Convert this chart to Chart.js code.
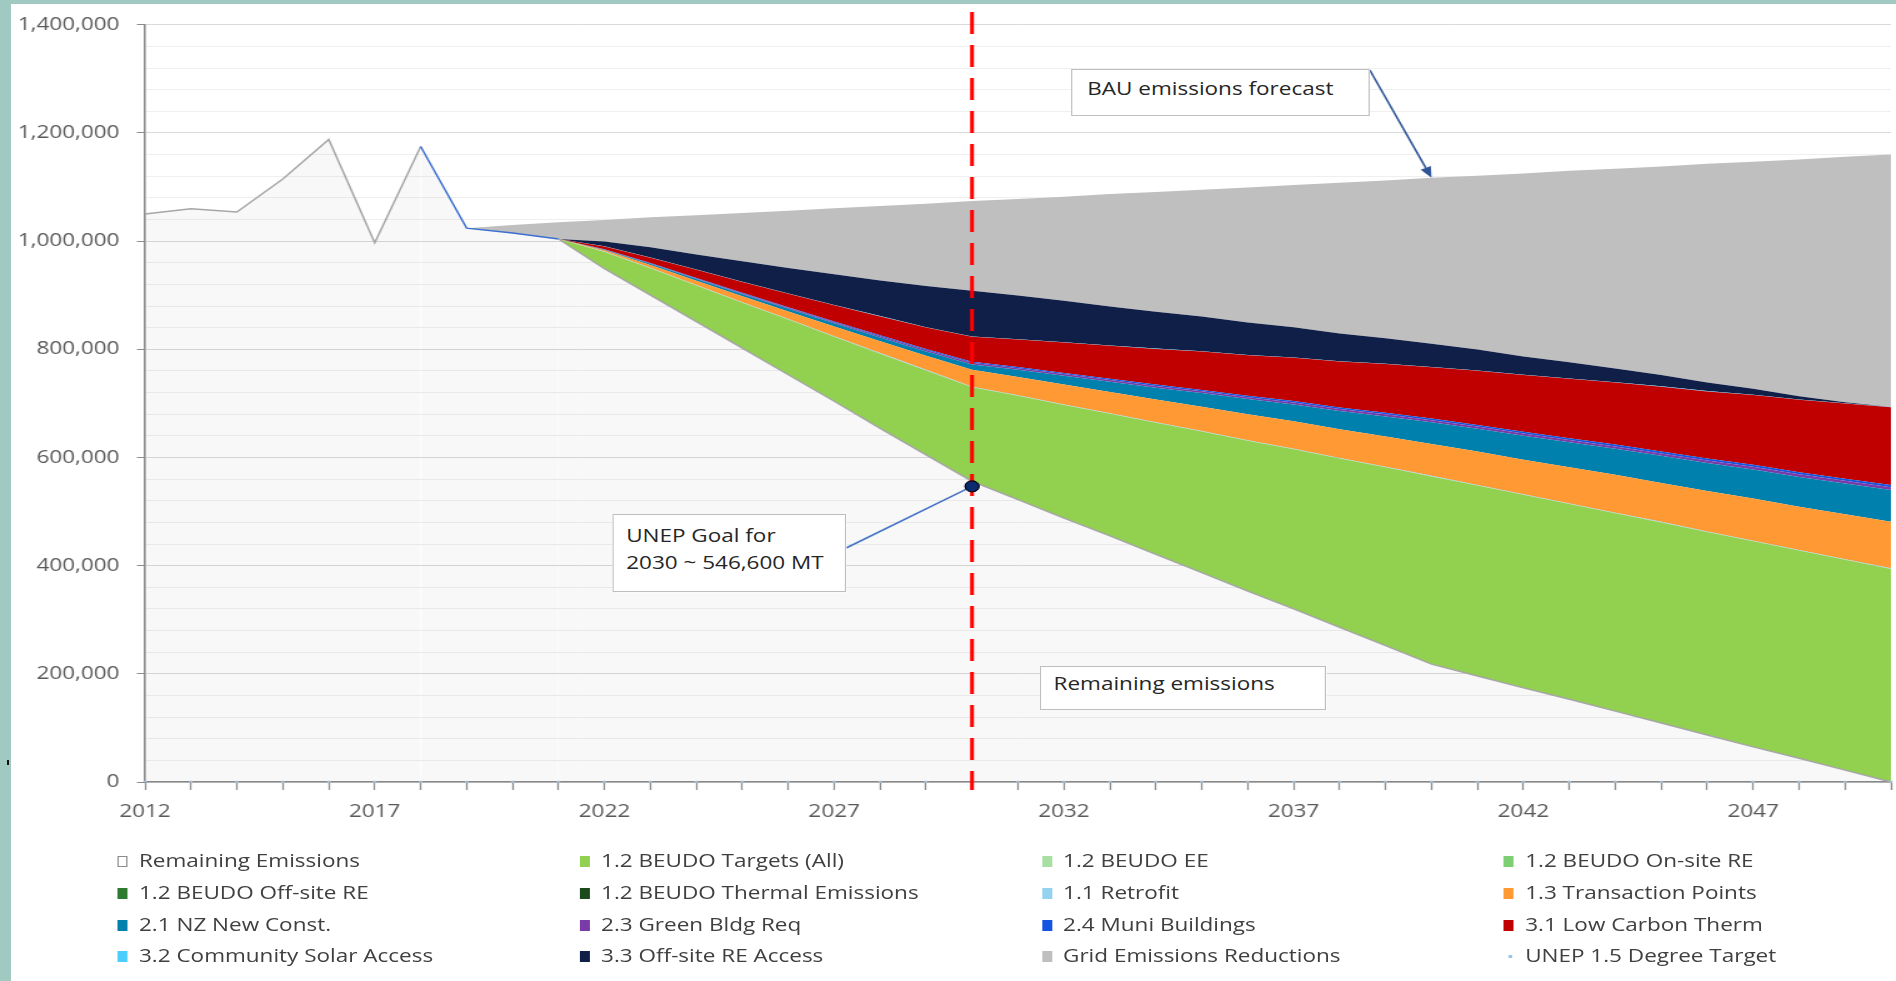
<!DOCTYPE html>
<html>
<head>
<meta charset="utf-8">
<script src="https://cdn.jsdelivr.net/npm/chart.js@4.4.1/dist/chart.umd.min.js"></script>
<style>
html,body{margin:0;padding:0;width:1896px;height:981px;overflow:hidden;background:#a0c9c1;font-family:"Open Sans",sans-serif;}
#panel{position:absolute;left:11px;top:4px;right:0;bottom:0;background:#fff;}
#mark{position:absolute;left:7px;top:760px;width:2px;height:5px;background:#111;}
#stage{position:absolute;left:0;top:0;width:1517px;height:981px;transform:scaleX(1.2498);transform-origin:0 0;}
#c{position:absolute;left:0;top:0;}
.box{position:absolute;background:#fff;border:1.5px solid #bfbfbf;box-sizing:border-box;color:#262626;font-size:18px;line-height:24px;white-space:nowrap;}
.li{position:absolute;font-size:18px;color:#404040;white-space:nowrap;line-height:24px;height:24px;}
.sw{position:absolute;box-sizing:border-box;}
</style>
</head>
<body>
<div id="panel"></div>
<div id="mark"></div>
<div id="stage">
  <canvas id="c" width="1517" height="850" style="width:1517px;height:850px"></canvas>
  <div class="box" style="left:857px;top:69px;width:239px;height:47px;padding:6px 0 0 12px;">BAU emissions forecast</div>
  <div class="box" style="left:490px;top:514px;width:187px;height:78px;padding:7px 0 0 10px;line-height:26.7px;">UNEP Goal for<br>2030 ~ 546,600 MT</div>
  <div class="box" style="left:832px;top:666px;width:229px;height:44px;padding:4px 0 0 10px;">Remaining emissions</div>
  <div id="legend"></div>
</div>
<script>
// ---------------- DATA (metric tons CO2e) ----------------
const years = [2012,2013,2014,2015,2016,2017,2018,2019,2020,2021,2022,2023,2024,2025,2026,2027,2028,2029,2030,
  2031,2032,2033,2034,2035,2036,2037,2038,2039,2040,2041,2042,2043,2044,2045,2046,2047,2048,2049,2050];

const remainingEmissions = [1050000,1060000,1054000,1115000,1188000,997000,1175000,1024000,1015000,1004000,
  949000,900000,851000,802000,753000,704000,654000,605000,556000,
  522000,488000,455000,421000,387000,353000,320000,286000,252000,218000,
  196000,174000,153000,131000,109000,87000,65000,44000,22000,0];

const beudoTargetsAll = [0,0,0,0,0,0,0,0,0,0,
  31000,50000,67000,84000,102000,119000,138000,156000,174000,
  192000,209000,226000,243000,261000,278000,295000,312000,330000,347000,
  352000,357000,361000,366000,371000,375000,380000,384000,389000,394000];

const beudoEE = [0,0,0,0,0,0,0,0,0,0,0,0,0,0,0,0,0,0,0,0,0,0,0,0,0,0,0,0,0,0,0,0,0,0,0,0,0,0,0];
const beudoOnsiteRE = [0,0,0,0,0,0,0,0,0,0,0,0,0,0,0,0,0,0,0,0,0,0,0,0,0,0,0,0,0,0,0,0,0,0,0,0,0,0,0];
const beudoOffsiteRE = [0,0,0,0,0,0,0,0,0,0,0,0,0,0,0,0,0,0,0,0,0,0,0,0,0,0,0,0,0,0,0,0,0,0,0,0,0,0,0];
const beudoThermal = [0,0,0,0,0,0,0,0,0,0,0,0,0,0,0,0,0,0,0,0,0,0,0,0,0,0,0,0,0,0,0,0,0,0,0,0,0,0,0];

const retrofit = [0,0,0,0,0,0,0,0,0,0,
  1000,1000,1000,1000,1000,1000,1000,1000,1000,
  1000,1000,1000,1000,1000,1000,1000,1000,1000,1000,
  1000,1000,1000,1000,1000,1000,1000,1000,1000,1000];

const transactionPoints = [0,0,0,0,0,0,0,0,0,0,
  2000,5000,8000,11000,14000,18000,22000,26000,31000,
  34000,37000,39000,42000,45000,48000,51000,53000,56000,59000,
  62000,64000,67000,70000,72000,75000,78000,80000,83000,86000];

const nzNewConst = [0,0,0,0,0,0,0,0,0,0,
  1000,2000,3000,4000,5000,6000,7000,8000,10000,
  13000,16000,19000,22000,25000,28000,31000,34000,37000,40000,
  42000,44000,46000,48000,50000,52000,54000,55000,57000,59000];

const greenBldgReq = [0,0,0,0,0,0,0,0,0,0,
  500,800,1100,1400,1700,2000,2300,2600,3000,
  3100,3200,3300,3400,3500,3600,3700,3800,3900,4000,
  4100,4200,4300,4400,4500,4600,4700,4800,4900,5000];

const muniBuildings = [0,0,0,0,0,0,0,0,0,0,
  400,600,800,1000,1200,1400,1600,1800,2000,
  2100,2200,2300,2400,2500,2600,2700,2800,2900,3000,
  3100,3200,3300,3400,3500,3600,3700,3800,3900,4000];

const lowCarbonTherm = [0,0,0,0,0,0,0,0,0,0,
  5000,10000,15000,20000,25000,30000,35000,40000,46000,
  51000,56000,61000,66000,71000,75000,80000,85000,90000,95000,
  100000,105000,110000,115000,120000,124000,129000,134000,139000,144000];

const communitySolar = [0,0,0,0,0,0,0,0,0,0,
  500,500,500,500,500,500,500,500,500,
  500,500,500,500,500,500,500,500,500,500,
  500,500,500,500,500,500,500,500,500,500];

const offsiteREAccess = [0,0,0,0,0,0,0,0,0,0,
  9000,19000,28000,38000,47000,57000,66000,76000,85000,
  81000,77000,72000,68000,64000,60000,56000,51000,47000,43000,
  39000,34000,30000,25000,21000,16000,11000,6000,2000,0];

const gridReductions = [0,0,0,0,0,0,0,0,15000,31000,
  39600,55100,72600,89100,105600,122100,137600,152100,165500,
  178300,192100,207900,221700,234500,249300,263100,278900,291700,306500,
  321300,338100,353900,369700,385500,404300,420100,437900,453700,466500];

const unepTarget = [0,0,0,0,0,0,0,0,0,0,0,0,0,0,0,0,0,0,546600,
  0,0,0,0,0,0,0,0,0,0,0,0,0,0,0,0,0,0,0,0];

const yMax = 1400000;
const yStep = 40000;
const yLabelStep = 200000;
const xLabelEvery = 5;

// ---------------- SERIES TABLE ----------------
const series = [
  {label:'Remaining Emissions', data:remainingEmissions, color:'rgba(0,0,0,0.026)'},
  {label:'1.2 BEUDO Targets (All)', data:beudoTargetsAll, color:'#92d050'},
  {label:'1.2 BEUDO EE', data:beudoEE, color:'#a9dfa3'},
  {label:'1.2 BEUDO On-site RE', data:beudoOnsiteRE, color:'#7ccf72'},
  {label:'1.2 BEUDO Off-site RE', data:beudoOffsiteRE, color:'#2e7a2e'},
  {label:'1.2 BEUDO Thermal Emissions', data:beudoThermal, color:'#1d4a1d'},
  {label:'1.1 Retrofit', data:retrofit, color:'#93d3ef'},
  {label:'1.3 Transaction Points', data:transactionPoints, color:'#ff9933'},
  {label:'2.1 NZ New Const.', data:nzNewConst, color:'#0080ad'},
  {label:'2.3 Green Bldg Req', data:greenBldgReq, color:'#7a3aa8'},
  {label:'2.4 Muni Buildings', data:muniBuildings, color:'#1255e0'},
  {label:'3.1 Low Carbon Therm', data:lowCarbonTherm, color:'#c00000'},
  {label:'3.2 Community Solar Access', data:communitySolar, color:'#4dcdfb'},
  {label:'3.3 Off-site RE Access', data:offsiteREAccess, color:'#101f48'},
  {label:'Grid Emissions Reductions', data:gridReductions, color:'#bfbfbf'},
  {label:'UNEP 1.5 Degree Target', data:unepTarget, color:'#9dc3e6'}
];

const datasets = series.map((s, i) => {
  if (s.label === 'UNEP 1.5 Degree Target') {
    return {
      label: s.label, data: s.data, stack: 'unep', order: -1, showLine: false, fill: false,
      pointRadius: ctx => (ctx.raw > 0 ? 5.5 : 1.6),
      pointBackgroundColor: ctx => (ctx.raw > 0 ? '#0b2a70' : s.color),
      pointBorderColor: ctx => (ctx.raw > 0 ? '#000000' : s.color),
      pointBorderWidth: ctx => (ctx.raw > 0 ? 1 : 0)
    };
  }
  const d = {
    label: s.label, data: s.data, backgroundColor: s.color, borderColor: s.color,
    borderWidth: 0, pointRadius: 0, tension: 0, fill: i === 0 ? 'origin' : '-1'
  };
  if (i === 0) {
    d.borderColor = '#a6a6a6';
    d.borderWidth = 1.5;
    d.segment = { borderColor: ctx => (ctx.p0DataIndex >= 6 && ctx.p1DataIndex <= 9 ? '#3b6fd0' : undefined) };
  }
  return d;
});

const overlay = {
  id: 'overlay',
  afterDatasetsDraw(chart) {
    const {ctx, scales:{x, y}} = chart;
    ctx.save();
    // dashed reference line at 2030
    const i2030 = years.indexOf(2030);
    const xr = x.getPixelForValue(i2030);
    ctx.strokeStyle = '#ff0000';
    ctx.lineWidth = 3;
    ctx.setLineDash([22, 11]);
    ctx.beginPath(); ctx.moveTo(xr, 12); ctx.lineTo(xr, 790); ctx.stroke();
    ctx.setLineDash([]);

    // connector from UNEP box to 2030 goal point
    const unepMeta = chart.getDatasetMeta(series.length - 1);
    const gp = unepMeta.data[i2030];
    ctx.strokeStyle = '#4472c4';
    ctx.lineWidth = 1.5;
    ctx.beginPath(); ctx.moveTo(677, 548); ctx.lineTo(gp.x, gp.y); ctx.stroke();
    ctx.fillStyle = '#0b2a70'; ctx.strokeStyle = '#000';
    ctx.lineWidth = 1;
    ctx.beginPath(); ctx.arc(gp.x, gp.y, 5.5, 0, Math.PI * 2); ctx.fill(); ctx.stroke();

    // arrow from BAU box to BAU top at 2040
    const i2040 = years.indexOf(2040);
    const gridMeta = chart.getDatasetMeta(series.length - 2);
    const tp = gridMeta.data[i2040];
    const x0 = 1096, y0 = 70, x1 = tp.x, y1 = tp.y;
    const ang = Math.atan2(y1 - y0, x1 - x0);
    const L = 11, W = 4.5;
    const bx = x1 - L * Math.cos(ang), by = y1 - L * Math.sin(ang);
    ctx.strokeStyle = '#2f5597'; ctx.fillStyle = '#2f5597'; ctx.lineWidth = 1.6;
    ctx.beginPath(); ctx.moveTo(x0, y0); ctx.lineTo(bx, by); ctx.stroke();
    ctx.beginPath();
    ctx.moveTo(x1, y1);
    ctx.lineTo(bx + W * Math.sin(ang), by - W * Math.cos(ang));
    ctx.lineTo(bx - W * Math.sin(ang), by + W * Math.cos(ang));
    ctx.closePath(); ctx.fill();
    ctx.restore();
  }
};

Chart.defaults.font.family = '"Open Sans", sans-serif';
Chart.defaults.font.size = 18;
Chart.defaults.color = '#595959';

const chart = new Chart(document.getElementById('c'), {
  type: 'line',
  data: { labels: years.map(String), datasets },
  options: {
    responsive: false,
    animation: false,
    devicePixelRatio: 1,
    layout: { padding: { top: 22, right: 3, bottom: 8, left: 0 } },
    plugins: { legend: { display: false }, tooltip: { enabled: false } },
    elements: { line: { tension: 0 } },
    scales: {
      x: {
        offset: false,
        afterFit(scale) { scale.height = 60; scale.paddingLeft = 0; scale.paddingRight = 0; },
        grid: { drawOnChartArea: false, drawTicks: true, tickLength: 8, tickColor: '#8c8c8c', tickWidth: 1.3 },
        border: { color: '#8c8c8c', width: 1.6 },
        ticks: {
          autoSkip: false, maxRotation: 0, minRotation: 0, padding: 11, color: '#595959',
          callback: function(val, idx) { return idx % xLabelEvery === 0 ? this.getLabelForValue(val) : ''; }
        }
      },
      y: {
        stacked: true,
        min: 0, max: yMax,
        afterFit(scale) { scale.width = 116; },
        grid: {
          color: ctx => (ctx.tick && ctx.tick.value % yLabelStep === 0 ? '#d9d9d9' : '#efefef'),
          lineWidth: 1,
          drawTicks: true, tickLength: 6.4,
          tickColor: ctx => (ctx.tick && ctx.tick.value % yLabelStep === 0 ? '#8c8c8c' : 'rgba(0,0,0,0)')
        },
        border: { color: '#8c8c8c', width: 1.6 },
        ticks: {
          autoSkip: false, stepSize: yStep, padding: 14, color: '#595959',
          callback: v => (v % yLabelStep === 0 ? v.toLocaleString('en-US') : '')
        }
      }
    }
  },
  plugins: [overlay]
});

// ---------------- HTML legend (4 columns) ----------------
const legend = document.getElementById('legend');
const rowY = [861, 893, 925, 956];
series.forEach((s, i) => {
  const col = i % 4, row = Math.floor(i / 4);
  const tx = 111.2 + 369.7 * col;
  const cy = rowY[row];
  const sw = document.createElement('div');
  sw.className = 'sw';
  if (i === 0) {
    Object.assign(sw.style, {left:(tx - 17) + 'px', top:(cy - 5.5) + 'px', width:'8px', height:'11px', background:'#fff', border:'1px solid #8c8c8c'});
  } else if (s.label === 'UNEP 1.5 Degree Target') {
    Object.assign(sw.style, {left:(tx - 13) + 'px', top:(cy - 1.5) + 'px', width:'2.5px', height:'3px', background:s.color});
  } else {
    Object.assign(sw.style, {left:(tx - 17) + 'px', top:(cy - 5.5) + 'px', width:'8px', height:'11px', background:s.color});
  }
  legend.appendChild(sw);
  const t = document.createElement('div');
  t.className = 'li';
  t.textContent = s.label;
  Object.assign(t.style, {left: tx + 'px', top: (cy - 13) + 'px'});
  legend.appendChild(t);
});
</script>
</body>
</html>
